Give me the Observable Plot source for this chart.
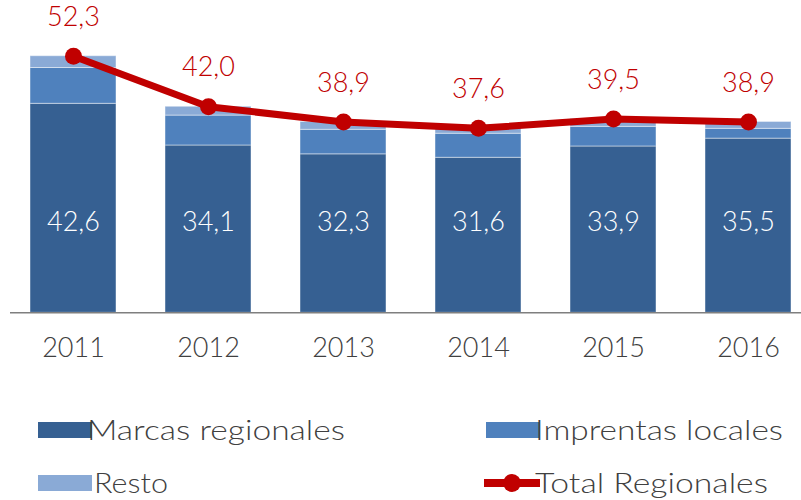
<!DOCTYPE html>
<html>
<head>
<meta charset="utf-8">
<script src="https://cdn.jsdelivr.net/npm/d3@7"></script>
<script src="https://cdn.jsdelivr.net/npm/@observablehq/plot@0.6"></script>
<style>
  html, body { margin: 0; padding: 0; background: #fff; }
  #chart { width: 801px; height: 500px; position: relative; }
  svg { display: block; }
</style>
</head>
<body>
<div id="chart"></div>
<script>
const years = ["2011", "2012", "2013", "2014", "2015", "2016"];
const marcas = [42.6, 34.1, 32.3, 31.6, 33.9, 35.5];
const imprentas = [7.3, 6.1, 5.0, 4.9, 4.0, 2.0];
const resto = [2.4, 1.8, 1.6, 1.1, 1.6, 1.4];
const total = [52.3, 42.0, 38.9, 37.6, 39.5, 38.9];
const seriesNames = ["Marcas regionales", "Imprentas locales", "Resto"];
const lineName = "Total Regionales";
const colors = ["#366092", "#4f81bd", "#8aaad6"];
const red = "#c00000";

const fmt = v => v.toFixed(1).replace(".", ",");

const rows = [];
years.forEach((y, i) => {
  rows.push({year: y, series: seriesNames[0], value: marcas[i]});
  rows.push({year: y, series: seriesNames[1], value: imprentas[i]});
  rows.push({year: y, series: seriesNames[2], value: resto[i]});
});
const totals = years.map((y, i) => ({year: y, total: total[i], marcas: marcas[i]}));

const font = "Lato, 'Open Sans', sans-serif";
const H = 400;
const base = 312.3;
const pxPerUnit = 4.906;

const plot = Plot.plot({
  width: 801,
  height: H,
  marginLeft: 10,
  marginRight: 0,
  marginTop: 0,
  marginBottom: H - base,
  style: {fontFamily: font, background: "white", fontWeight: 300},
  x: {domain: years, range: [2.5, 818], paddingInner: 0.36, paddingOuter: 0.18, align: 0.5, label: null},
  y: {domain: [0, 60], range: [base, base - 60 * pxPerUnit], axis: null},
  color: {domain: seriesNames, range: colors},
  marks: [
    Plot.barY(rows, {x: "year", y: "value", fill: "series", stroke: "white", strokeOpacity: 0.45, strokeWidth: 1}),
    Plot.ruleY([0], {stroke: "#7f7f7f", strokeWidth: 1.5}),
    Plot.axisX({tickSize: 0, tickPadding: 25, fontSize: 27, fill: "#404040", fontWeight: 300, label: null}),
    Plot.text(totals, {x: "year", y: 18.4, text: d => fmt(d.marcas), fill: "white", fontSize: 27, fontWeight: 300}),
    Plot.lineY(totals, {x: "year", y: "total", stroke: red, strokeWidth: 7, curve: "linear"}),
    Plot.dot(totals, {x: "year", y: "total", r: 8.5, fill: red, stroke: "none"}),
    Plot.text(totals, {x: "year", y: "total", text: d => fmt(d.total), dy: -39, fill: red, fontSize: 27, fontWeight: 300})
  ]
});
document.getElementById("chart").appendChild(plot);

// Legend below the plot
const leg = d3.select("#chart").append("svg")
  .attr("width", 801).attr("height", 100)
  .style("font-family", font);
const items = [
  {name: seriesNames[0], color: colors[0], x: 38, row: 0, type: "rect", len: 258, tx: 87},
  {name: seriesNames[1], color: colors[1], x: 486, row: 0, type: "rect", len: 248, tx: 535},
  {name: seriesNames[2], color: colors[2], x: 38, row: 1, type: "rect", len: 74, tx: 94},
  {name: lineName, color: red, x: 484, row: 1, type: "line", len: 233, tx: 535}
];
items.forEach(it => {
  const cy = it.row === 0 ? 30 : 83;
  const g = leg.append("g");
  if (it.type === "rect") {
    g.append("rect").attr("x", it.x).attr("y", cy - 8).attr("width", 54).attr("height", 16).attr("fill", it.color);
  } else {
    g.append("line").attr("x1", it.x).attr("x2", it.x + 56).attr("y1", cy).attr("y2", cy)
      .attr("stroke", it.color).attr("stroke-width", 8);
    g.append("circle").attr("cx", it.x + 28).attr("cy", cy).attr("r", 9).attr("fill", it.color);
  }
  g.append("text").attr("x", it.tx).attr("y", cy + 10)
    .attr("font-size", 27).attr("font-weight", 300).attr("fill", "#404040")
    .attr("textLength", it.len).attr("lengthAdjust", "spacingAndGlyphs")
    .text(it.name);
});
</script>
</body>
</html>
